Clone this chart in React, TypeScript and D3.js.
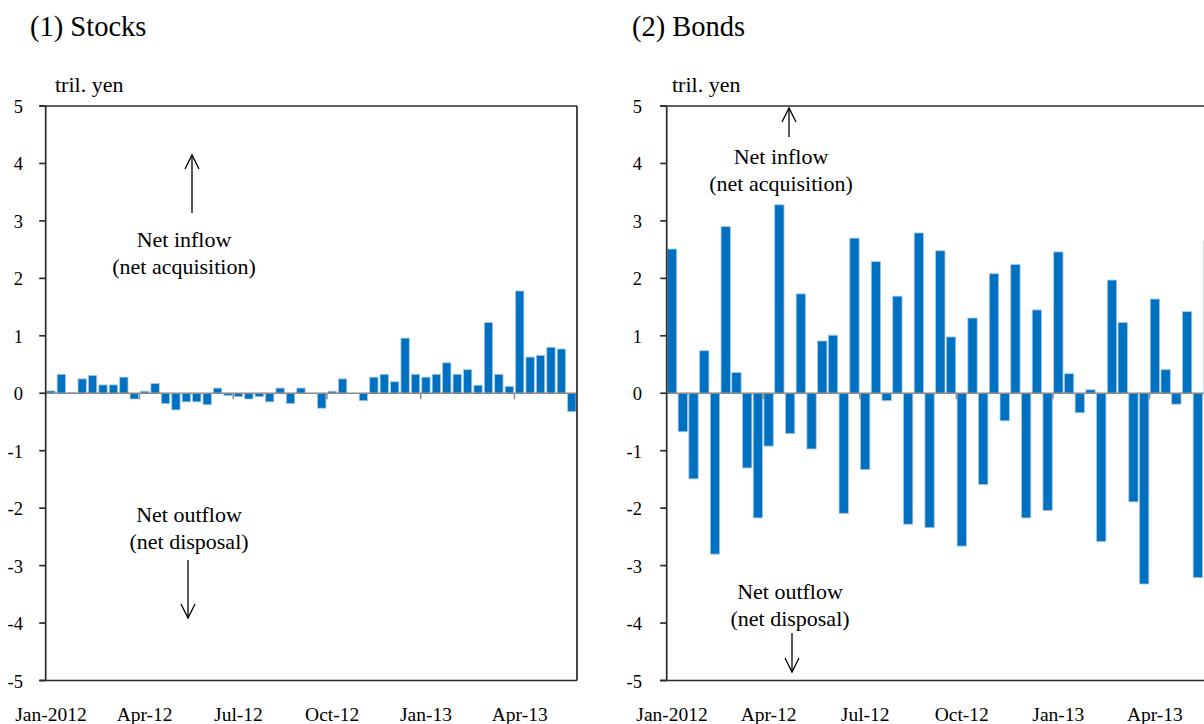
import React from 'react';
import * as d3 from 'd3';

// flows in tril. yen
const stocks = [
  0.04, 0.33, 0.01, 0.25, 0.31, 0.145, 0.145, 0.28, -0.1, 0.035,
  0.17, -0.18, -0.29, -0.15, -0.15, -0.2, 0.09, -0.04, -0.06, -0.1,
  -0.06, -0.15, 0.09, -0.18, 0.09, 0.0, -0.26, 0.035, 0.25, 0.0,
  -0.13, 0.28, 0.33, 0.2, 0.96, 0.33, 0.28, 0.33, 0.53, 0.33,
  0.41, 0.14, 1.23, 0.33, 0.12, 1.78, 0.63, 0.66, 0.8, 0.77, -0.32,
];

const bonds = [
  2.51, -0.67, -1.49, 0.74, -2.8, 2.9, 0.36, -1.3, -2.17, -0.92,
  3.28, -0.7, 1.73, -0.97, 0.91, 1.01, -2.09, 2.7, -1.33, 2.29,
  -0.13, 1.69, -2.28, 2.79, -2.34, 2.48, 0.98, -2.66, 1.31, -1.59,
  2.08, -0.48, 2.24, -2.17, 1.45, -2.04, 2.46, 0.34, -0.34, 0.06,
  -2.58, 1.97, 1.23, -1.89, -3.32, 1.64, 0.41, -0.19, 1.42, -3.21, 2.65,
];

const tickLabels = ['Jan-2012', 'Apr-12', 'Jul-12', 'Oct-12', 'Jan-13', 'Apr-13'];
const tickEvery = 9;
const yTicks = [5, 4, 3, 2, 1, 0, -1, -2, -3, -4, -5];

const FONT = 'Liberation Serif';
const BAR = '#0070C0';
const FRAME = '#2b2b2b';

interface Note {
  cx: number;
  lines: [string, string];
  base: number;
  arrowX: number;
  arrowFrom: number;
  arrowTo: number;
}

interface PanelProps {
  title: string;
  titleX: number;
  data: number[];
  left: number;
  right: number;
  pad: number;
  labelRight: number;
  unitX: number;
  notes: Note[];
}

const Arrow: React.FC<{ x: number; from: number; to: number }> = ({ x, from, to }) => {
  const dir = to < from ? 1 : -1;
  return (
    <g stroke="#000" strokeWidth={1.3} fill="none">
      <line x1={x} y1={from} x2={x} y2={to} />
      <polyline points={`${x - 7},${to + dir * 14} ${x},${to} ${x + 7},${to + dir * 14}`} />
    </g>
  );
};

const Panel: React.FC<PanelProps> = ({ title, titleX, data, left, right, pad, labelRight, unitX, notes }) => {
  const top = 106;
  const bottom = 680.5;
  const y = d3.scaleLinear().domain([-5, 5]).range([bottom, top]);
  const x = d3
    .scaleBand<number>()
    .domain(d3.range(data.length))
    .range([left, right])
    .paddingInner(pad)
    .paddingOuter(pad / 2);
  const step = x.step();
  const y0 = y(0);

  return (
    <g>
      <text x={titleX} y={36} fontSize={28.5} fontFamily={FONT}>{title}</text>
      <text x={unitX} y={92} fontSize={22} fontFamily={FONT}>tril. yen</text>

      {/* bars */}
      {data.map((v, i) => (
        <rect
          key={i}
          x={x(i)}
          width={x.bandwidth()}
          y={Math.min(y(v), y0)}
          height={Math.abs(y(v) - y0)}
          fill={BAR}
          stroke={v === 0 ? 'none' : '#a6c8ea'}
          strokeWidth={0.8}
        />
      ))}

      {/* zero axis with category ticks */}
      <line x1={left} x2={right} y1={y0} y2={y0} stroke="#8c8c8c" strokeWidth={1.7} />
      {tickLabels.map((_, k) => {
        const tx = left + k * tickEvery * step;
        return k === 0 ? null : (
          <line key={k} x1={tx} x2={tx} y1={y0} y2={y0 + 6} stroke="#8c8c8c" strokeWidth={1.5} />
        );
      })}

      {/* frame */}
      <g stroke={FRAME} strokeWidth={1.7} fill="none">
        <line x1={left} x2={left} y1={top} y2={bottom} />
        <line x1={left - 6.5} x2={right} y1={top} y2={top} />
        <line x1={left - 6.5} x2={right} y1={bottom} y2={bottom} />
        <line x1={right} x2={right} y1={top} y2={bottom} />
        {yTicks.map((t) => (
          <line key={t} x1={left - 6.5} x2={left} y1={y(t)} y2={y(t)} />
        ))}
      </g>

      {/* y labels */}
      {yTicks.map((t) => (
        <text
          key={t}
          x={labelRight}
          y={y(t) + 1}
          fontSize={18.5}
          fontFamily={FONT}
          textAnchor="end"
          dominantBaseline="central"
        >
          {t}
        </text>
      ))}

      {/* x labels */}
      {tickLabels.map((lab, k) => (
        <text
          key={lab}
          x={(x(k * tickEvery) ?? 0) + x.bandwidth() / 2}
          y={721}
          fontSize={19.5}
          fontFamily={FONT}
          textAnchor="middle"
        >
          {lab}
        </text>
      ))}

      {/* annotations */}
      {notes.map((n, i) => (
        <g key={i}>
          <text x={n.cx} y={n.base} fontSize={22} fontFamily={FONT} textAnchor="middle">{n.lines[0]}</text>
          <text x={n.cx} y={n.base + 26.5} fontSize={22} fontFamily={FONT} textAnchor="middle">{n.lines[1]}</text>
          <Arrow x={n.arrowX} from={n.arrowFrom} to={n.arrowTo} />
        </g>
      ))}
    </g>
  );
};

const App: React.FC = () => (
  <svg
    width={1204}
    height={724}
    style={{ position: 'absolute', left: 0, top: 0, background: '#fff' }}
  >
    <Panel
      title="(1) Stocks"
      titleX={30}
      data={stocks}
      left={45.7}
      right={577}
      pad={0.2}
      labelRight={23}
      unitX={55}
      notes={[
        { cx: 184, lines: ['Net inflow', '(net acquisition)'], base: 247, arrowX: 192, arrowFrom: 213, arrowTo: 155 },
        { cx: 189, lines: ['Net outflow', '(net disposal)'], base: 522, arrowX: 188, arrowFrom: 560, arrowTo: 618 },
      ]}
    />
    <Panel
      title="(2) Bonds"
      titleX={632}
      data={bonds}
      left={666.7}
      right={666.7 + 51 * 10.73}
      pad={0.13}
      labelRight={642}
      unitX={672}
      notes={[
        { cx: 781, lines: ['Net inflow', '(net acquisition)'], base: 164, arrowX: 789, arrowFrom: 137, arrowTo: 108 },
        { cx: 790, lines: ['Net outflow', '(net disposal)'], base: 599, arrowX: 792, arrowFrom: 633, arrowTo: 672 },
      ]}
    />
  </svg>
);

export default App;
